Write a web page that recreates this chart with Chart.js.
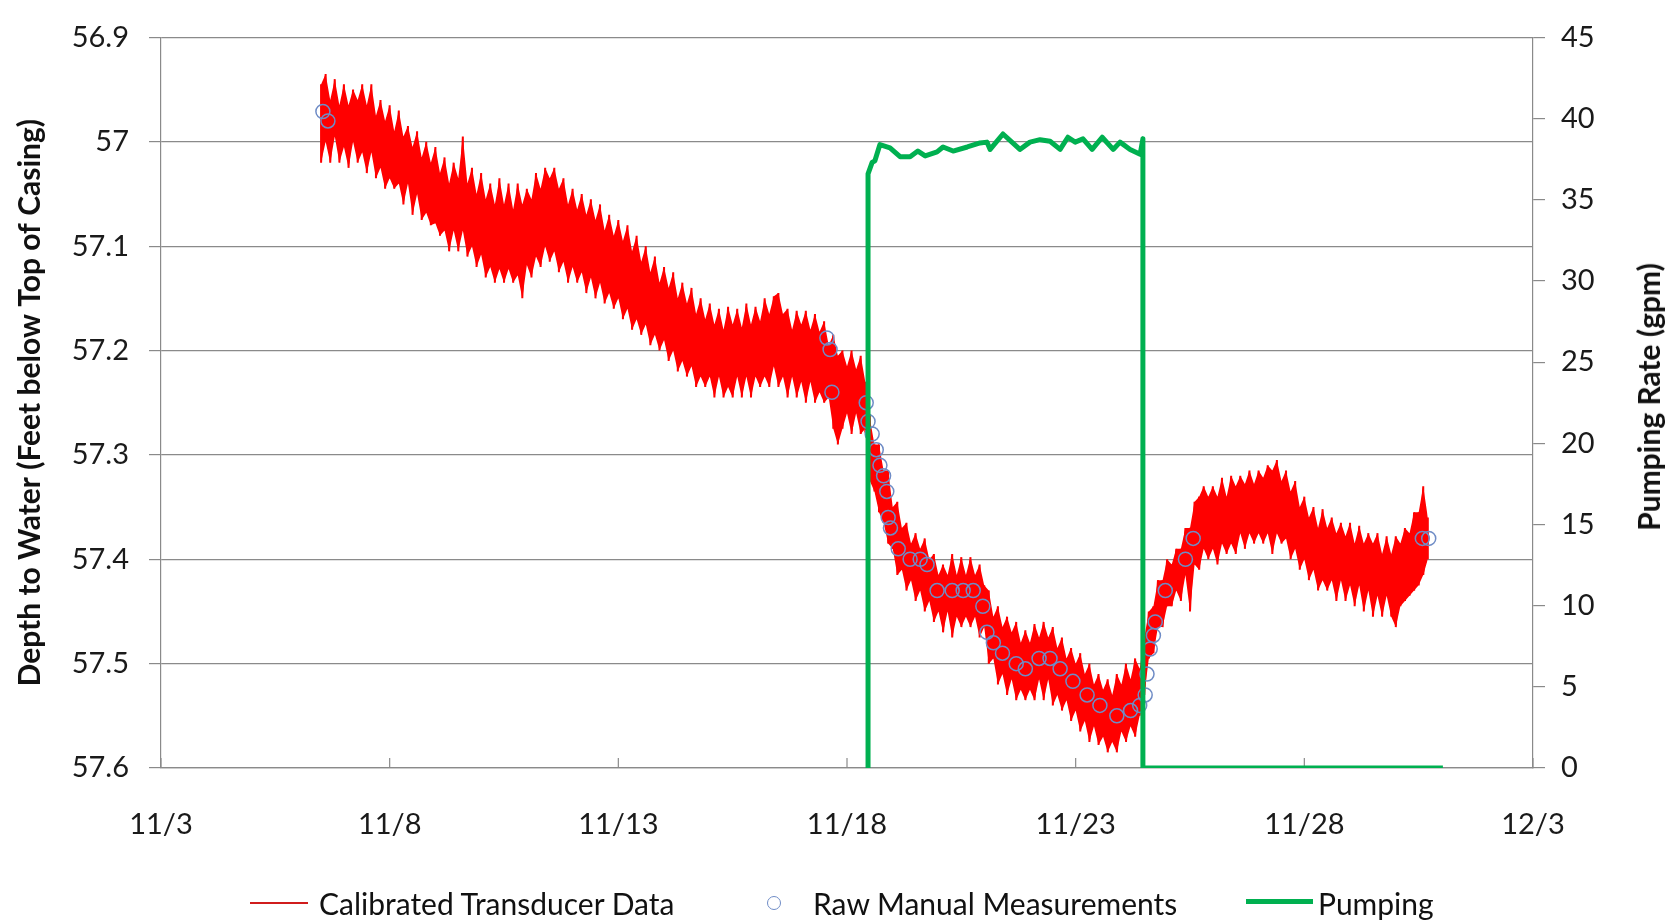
<!DOCTYPE html>
<html>
<head>
<meta charset="utf-8">
<title>Depth to water and pumping rate</title>
<script src="https://cdn.jsdelivr.net/npm/chart.js@4.4.1/dist/chart.umd.min.js"></script>
<style>
  body { margin: 0; background: #fff; }
  #wrap { position: relative; width: 1667px; height: 921px; font-family: Lato, "Open Sans", sans-serif; color: #111; }
  #rightTitle { position: absolute; left: 1648px; top: 397px; transform: translate(-50%, -50%) rotate(-90deg);
    white-space: nowrap; font-size: 30px; font-weight: bold; }
  .lg-text { position: absolute; top: 883px; line-height: 40px; font-size: 30px; white-space: nowrap; }
  .lg-line { position: absolute; }
  .lg-dot { position: absolute; border-radius: 50%; box-sizing: border-box; }
</style>
</head>
<body>
<div id="wrap">
  <canvas id="chart" width="1667" height="921"></canvas>
  <div id="rightTitle">Pumping Rate (gpm)</div>
  <div id="legend"></div>
</div>
<script>
// axis labels
const dateTickLabels = ['11/3', '11/8', '11/13', '11/18', '11/23', '11/28', '12/3'];
const depthTickLabels = ['56.9', '57', '57.1', '57.2', '57.3', '57.4', '57.5', '57.6'];

// transducer record, read as top / bottom of the noisy trace (day of November)
const transDays = [
  6.5, 6.6, 6.7, 6.8, 6.9,
  7.0, 7.1, 7.2, 7.3, 7.4, 7.5, 7.6, 7.7, 7.8, 7.9,
  8.0, 8.1, 8.2, 8.3, 8.4, 8.5, 8.6, 8.7, 8.8, 8.9,
  9.0, 9.1, 9.2, 9.3, 9.4, 9.5, 9.6, 9.7, 9.8, 9.9,
  10.0, 10.1, 10.2, 10.3, 10.4, 10.5, 10.6, 10.7, 10.8, 10.9,
  11.0, 11.1, 11.2, 11.3, 11.4, 11.5, 11.6, 11.7, 11.8, 11.9,
  12.0, 12.1, 12.2, 12.3, 12.4, 12.5, 12.6, 12.7, 12.8, 12.9,
  13.0, 13.1, 13.2, 13.3, 13.4, 13.5, 13.6, 13.7, 13.8, 13.9,
  14.0, 14.1, 14.2, 14.3, 14.4, 14.5, 14.6, 14.7, 14.8, 14.9,
  15.0, 15.1, 15.2, 15.3, 15.4, 15.5, 15.6, 15.7, 15.8, 15.9,
  16.0, 16.1, 16.2, 16.3, 16.4, 16.5, 16.6, 16.7, 16.8, 16.9,
  17.0, 17.1, 17.2, 17.3, 17.4, 17.5, 17.6, 17.7, 17.8, 17.9,
  18.0, 18.1, 18.2, 18.3, 18.4, 18.5, 18.6, 18.7, 18.8, 18.9,
  19.0, 19.1, 19.2, 19.3, 19.4, 19.5, 19.6, 19.7, 19.8, 19.9,
  20.0, 20.1, 20.2, 20.3, 20.4, 20.5, 20.6, 20.7, 20.8, 20.9,
  21.0, 21.1, 21.2, 21.3, 21.4, 21.5, 21.6, 21.7, 21.8, 21.9,
  22.0, 22.1, 22.2, 22.3, 22.4, 22.5, 22.6, 22.7, 22.8, 22.9,
  23.0, 23.1, 23.2, 23.3, 23.4, 23.5, 23.6, 23.7, 23.8, 23.9,
  24.0, 24.1, 24.2, 24.3, 24.4, 24.5, 24.6, 24.7, 24.8, 24.9,
  25.0, 25.1, 25.2, 25.3, 25.4, 25.5, 25.6, 25.7, 25.8, 25.9,
  26.0, 26.1, 26.2, 26.3, 26.4, 26.5, 26.6, 26.7, 26.8, 26.9,
  27.0, 27.1, 27.2, 27.3, 27.4, 27.5, 27.6, 27.7, 27.8, 27.9,
  28.0, 28.1, 28.2, 28.3, 28.4, 28.5, 28.6, 28.7, 28.8, 28.9,
  29.0, 29.1, 29.2, 29.3, 29.4, 29.5, 29.6, 29.7, 29.8, 29.9,
  30.0, 30.1, 30.2, 30.3, 30.4, 30.5, 30.6, 30.7
];
const transTop = [
  56.945, 56.935, 56.96, 56.94, 56.965,
  56.945, 56.965, 56.95, 56.96, 56.945, 56.965, 56.945, 56.975, 56.96, 56.98,
  56.965, 56.99, 56.97, 56.995, 56.985, 57.005, 56.99, 57.015, 57.0, 57.02,
  57.005, 57.03, 57.015, 57.04, 57.02, 57.035, 56.995, 57.04, 57.025, 57.05,
  57.03, 57.055, 57.04, 57.06, 57.035, 57.06, 57.04, 57.065, 57.04, 57.06,
  57.045, 57.055, 57.03, 57.045, 57.025, 57.035, 57.025, 57.045, 57.035, 57.06,
  57.045, 57.065, 57.05, 57.07, 57.055, 57.075, 57.06, 57.085, 57.07, 57.09,
  57.075, 57.095, 57.08, 57.105, 57.09, 57.115, 57.1, 57.125, 57.11, 57.135,
  57.12, 57.14, 57.125, 57.15, 57.135, 57.155, 57.14, 57.165, 57.15, 57.17,
  57.155, 57.175, 57.16, 57.18, 57.158, 57.175, 57.16, 57.178, 57.155, 57.175,
  57.158, 57.172, 57.15, 57.165, 57.148, 57.145, 57.165, 57.16, 57.18, 57.162,
  57.175, 57.162, 57.18, 57.165, 57.182, 57.172, 57.195, 57.185, 57.205, 57.2,
  57.215, 57.2, 57.218, 57.205, 57.23, 57.265, 57.29, 57.29, 57.315, 57.315,
  57.35, 57.345, 57.37, 57.365, 57.385, 57.375, 57.39, 57.38, 57.4, 57.395,
  57.415, 57.405, 57.415, 57.395, 57.415, 57.398, 57.415, 57.398, 57.415, 57.405,
  57.425, 57.43, 57.455, 57.445, 57.465, 57.455, 57.47, 57.46, 57.48, 57.468,
  57.48, 57.462, 57.475, 57.46, 57.475, 57.465, 57.485, 57.475, 57.495, 57.485,
  57.5, 57.49, 57.51, 57.5, 57.52, 57.51, 57.525, 57.515, 57.53, 57.51,
  57.52, 57.5, 57.515, 57.495, 57.505, 57.475, 57.45, 57.445, 57.42, 57.42,
  57.4, 57.405, 57.39, 57.39, 57.37, 57.37, 57.345, 57.34, 57.33, 57.34,
  57.33, 57.34, 57.322, 57.34, 57.32, 57.33, 57.32, 57.328, 57.315, 57.328,
  57.315, 57.322, 57.31, 57.315, 57.305, 57.325, 57.315, 57.335, 57.325, 57.35,
  57.34, 57.36, 57.35, 57.37, 57.352, 57.37, 57.36, 57.375, 57.365, 57.378,
  57.365, 57.385, 57.368, 57.385, 57.375, 57.385, 57.375, 57.395, 57.378, 57.395,
  57.378, 57.385, 57.37, 57.375, 57.355, 57.355, 57.33, 57.36
];
const transBottom = [
  57.02, 57.0, 57.02, 56.995, 57.02,
  57.005, 57.025, 57.0, 57.02, 57.01, 57.03, 57.01, 57.035, 57.025, 57.045,
  57.035, 57.045, 57.04, 57.06, 57.04, 57.07, 57.05, 57.075, 57.068, 57.08,
  57.078, 57.09, 57.085, 57.105, 57.085, 57.105, 57.085, 57.11, 57.1, 57.12,
  57.108, 57.13, 57.12, 57.135, 57.122, 57.135, 57.122, 57.135, 57.128, 57.15,
  57.118, 57.13, 57.11, 57.12, 57.1, 57.115, 57.105, 57.125, 57.115, 57.135,
  57.12, 57.135, 57.125, 57.145, 57.13, 57.15, 57.135, 57.155, 57.145, 57.16,
  57.15, 57.17, 57.16, 57.18, 57.17, 57.185, 57.175, 57.195, 57.185, 57.2,
  57.19, 57.21, 57.2, 57.22, 57.21, 57.225, 57.215, 57.235, 57.225, 57.235,
  57.225, 57.245, 57.225, 57.245, 57.235, 57.245, 57.225, 57.245, 57.225, 57.245,
  57.225, 57.235, 57.225, 57.235, 57.215, 57.235, 57.225, 57.245, 57.225, 57.245,
  57.23, 57.25, 57.23, 57.25, 57.24, 57.25, 57.245, 57.275, 57.29, 57.275,
  57.26, 57.28, 57.26, 57.28, 57.275, 57.325, 57.335, 57.355, 57.365, 57.385,
  57.39, 57.415, 57.41, 57.43, 57.42, 57.44, 57.43, 57.45, 57.44, 57.46,
  57.45, 57.47, 57.45, 57.475, 57.455, 57.465, 57.455, 57.465, 57.455, 57.475,
  57.465, 57.5, 57.495, 57.52, 57.51, 57.53, 57.515, 57.535, 57.525, 57.535,
  57.525, 57.535, 57.515, 57.535, 57.515, 57.54, 57.53, 57.545, 57.535, 57.555,
  57.545, 57.565, 57.555, 57.575, 57.56, 57.578, 57.57, 57.585, 57.575, 57.585,
  57.565, 57.575, 57.56, 57.57, 57.55, 57.53, 57.495, 57.49, 57.465, 57.465,
  57.445, 57.445, 57.43, 57.44, 57.415, 57.45, 57.405, 57.41, 57.39, 57.4,
  57.39, 57.405, 57.385, 57.395, 57.385, 57.395, 57.375, 57.39, 57.375, 57.385,
  57.375, 57.385, 57.375, 57.395, 57.375, 57.385, 57.38, 57.4, 57.39, 57.41,
  57.4, 57.42, 57.41, 57.43, 57.42, 57.43, 57.42, 57.44, 57.42, 57.44,
  57.425, 57.445, 57.425, 57.45, 57.43, 57.455, 57.435, 57.455, 57.435, 57.455,
  57.465, 57.445, 57.44, 57.435, 57.43, 57.425, 57.415, 57.4
];

// hand measurements
const manualDays = [
  6.54, 6.65, 17.56, 17.63, 17.67, 18.42, 18.46, 18.55, 18.64, 18.72, 18.80, 18.87, 18.90, 18.95,
  19.12, 19.38, 19.60, 19.75, 19.97, 20.30, 20.54, 20.76, 20.97, 21.06, 21.20, 21.40, 21.70, 21.90,
  22.20, 22.44, 22.66, 22.94, 23.25, 23.53, 23.90, 24.20, 24.40, 24.52, 24.56, 24.63, 24.70, 24.74,
  24.96, 25.40, 25.57, 30.58, 30.72
];
const manualDepth = [
  56.971, 56.98, 57.188, 57.199, 57.24, 57.25, 57.268, 57.28, 57.295, 57.31, 57.32, 57.335, 57.36, 57.37,
  57.39, 57.40, 57.40, 57.405, 57.43, 57.43, 57.43, 57.43, 57.445, 57.47, 57.48, 57.49, 57.50, 57.505,
  57.495, 57.495, 57.505, 57.517, 57.53, 57.54, 57.55, 57.545, 57.54, 57.53, 57.51, 57.486, 57.473, 57.46,
  57.43, 57.40, 57.38, 57.38, 57.38
];

// pumping rate (gpm)
const pumpDays = [
  18.46, 18.46, 18.55, 18.61, 18.72, 18.94, 19.16, 19.38, 19.55, 19.71, 19.97, 20.10, 20.32, 20.63,
  20.91, 21.06, 21.13, 21.41, 21.78, 22.00, 22.22, 22.44, 22.66, 22.83, 22.99, 23.16, 23.36, 23.58,
  23.82, 23.97, 24.19, 24.41, 24.47, 24.47, 31.03
];
const pumpRate = [
  0, 36.6, 37.3, 37.4, 38.4, 38.2, 37.65, 37.65, 38.0, 37.7, 37.95, 38.25, 38.0, 38.25,
  38.5, 38.55, 38.1, 39.05, 38.1, 38.55, 38.7, 38.6, 38.1, 38.85, 38.55, 38.75, 38.1, 38.85,
  38.1, 38.55, 38.1, 37.8, 38.75, 0, 0
];

// each transducer reading drawn as a stroke from top to bottom of the trace
const transPoints = [];
transDays.forEach((d, i) => {
  transPoints.push({ x: d, y: transTop[i] });
  transPoints.push({ x: d, y: transBottom[i] });
});

const gridGrey = '#8a8a8a';
const tickFont = { family: 'Lato', size: 29 };

// x axis tick marks point up into the plot
const innerTicks = {
  id: 'innerTicks',
  beforeDatasetsDraw(chart) {
    const xs = chart.scales.x;
    const ctx = chart.ctx;
    ctx.save();
    ctx.strokeStyle = gridGrey;
    ctx.lineWidth = 1.2;
    xs.ticks.forEach((t, i) => {
      const px = xs.getPixelForTick(i);
      ctx.beginPath();
      ctx.moveTo(px, xs.top);
      ctx.lineTo(px, xs.top - 10);
      ctx.stroke();
    });
    ctx.restore();
  }
};

const chart = new Chart(document.getElementById('chart'), {
  type: 'line',
  data: {
    datasets: [
      {
        // solid core of the noisy trace
        label: 'band top',
        data: transDays.map((d, i) => ({ x: d, y: transTop[i] })),
        borderWidth: 0,
        pointRadius: 0,
        backgroundColor: '#ff0000',
        fill: '+1',
        yAxisID: 'y',
        order: 5
      },
      {
        label: 'band bottom',
        data: transDays.map((d, i) => ({ x: d, y: transBottom[i] })),
        borderWidth: 0,
        pointRadius: 0,
        yAxisID: 'y',
        order: 4
      },
      {
        label: 'Calibrated Transducer Data',
        data: transPoints,
        borderColor: '#ff0000',
        borderWidth: 2,
        borderJoinStyle: 'miter',
        pointRadius: 0,
        yAxisID: 'y',
        order: 3
      },
      {
        label: 'Raw Manual Measurements',
        data: manualDays.map((d, i) => ({ x: d, y: manualDepth[i] })),
        showLine: false,
        pointStyle: 'circle',
        pointRadius: 7,
        pointBorderWidth: 1.5,
        pointBorderColor: '#6f8cc6',
        pointBackgroundColor: 'rgba(0,0,0,0)',
        yAxisID: 'y',
        order: 2
      },
      {
        label: 'Pumping',
        data: pumpDays.map((d, i) => ({ x: d, y: pumpRate[i] })),
        borderColor: '#00b050',
        borderWidth: 5,
        borderJoinStyle: 'round',
        pointRadius: 0,
        yAxisID: 'y2',
        order: 1
      }
    ]
  },
  options: {
    responsive: false,
    animation: false,
    layout: { padding: { top: 27, left: 0, right: 0, bottom: 0 } },
    plugins: { legend: { display: false }, tooltip: { enabled: false } },
    scales: {
      x: {
        type: 'linear',
        min: 3,
        max: 33,
        ticks: {
          stepSize: 5,
          autoSkip: false,
          maxRotation: 0,
          padding: 31,
          color: '#1a1a1a',
          font: { family: 'Lato', size: 29 },
          callback: (v, i) => dateTickLabels[i]
        },
        grid: { display: false },
        border: { display: true, color: gridGrey, width: 1.2 },
        afterFit(s) { s.height = 153; }
      },
      y: {
        position: 'left',
        reverse: true,
        min: 56.9,
        max: 57.6,
        ticks: {
          stepSize: 0.1,
          padding: 20,
          color: '#1a1a1a',
          font: tickFont,
          callback: (v) => depthTickLabels[Math.round((v - 56.9) * 10)]
        },
        grid: { color: gridGrey, lineWidth: 1.2, tickLength: 12 },
        border: { color: gridGrey, width: 1.2 },
        title: {
          display: true,
          text: 'Depth to Water (Feet below Top of Casing)',
          color: '#111',
          font: { family: 'Lato', size: 30, weight: 'bold' },
          padding: { top: 12, bottom: 0 }
        },
        afterFit(s) { s.width = 161; }
      },
      y2: {
        position: 'right',
        min: 0,
        max: 45,
        ticks: { stepSize: 5, padding: 16, color: '#1a1a1a', font: tickFont },
        grid: { drawOnChartArea: false, color: gridGrey, lineWidth: 1.2, tickLength: 12 },
        border: { color: gridGrey, width: 1.2 },
        afterFit(s) { s.width = 134; }
      }
    }
  },
  plugins: [innerTicks]
});

// legend below the plot, built from the datasets
const legend = document.getElementById('legend');
const ds = chart.data.datasets;
legend.innerHTML =
  '<div class="lg-line" style="left:250px;top:902px;width:58px;height:2px;background:#d01c1c"></div>' +
  '<div class="lg-text" style="left:319px">' + ds[2].label + '</div>' +
  '<div class="lg-dot" style="left:767px;top:896px;width:14px;height:14px;border:1.5px solid ' + ds[3].pointBorderColor + '"></div>' +
  '<div class="lg-text" style="left:813px">' + ds[3].label + '</div>' +
  '<div class="lg-line" style="left:1246px;top:899px;width:67px;height:5px;background:' + ds[4].borderColor + '"></div>' +
  '<div class="lg-text" style="left:1318px">' + ds[4].label + '</div>';
</script>
</body>
</html>
